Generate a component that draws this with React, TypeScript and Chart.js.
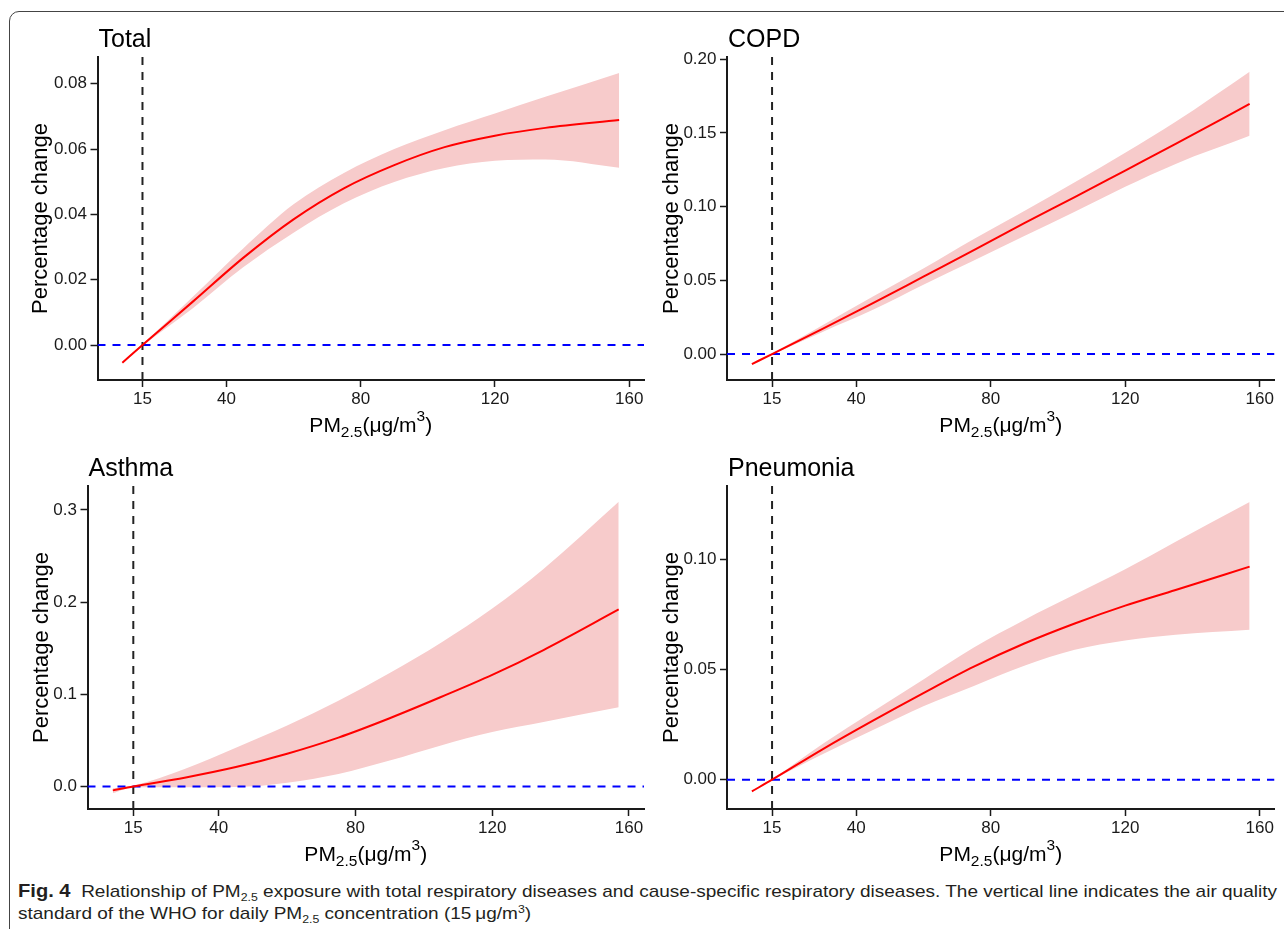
import React, { useEffect, useLayoutEffect, useRef } from "react";
import { Chart, registerables } from "chart.js";

Chart.register(...registerables);

// ---------- data ----------
const PM_X = [9, 15, 30, 45, 60, 75, 90, 105, 120, 135, 157];
const X_TICKS = [15, 40, 80, 120, 160];
const X_RANGE = [1.6, 164.4];
const WHO_LIMIT = 15;

const TOTAL_FIT = [-0.0054, 0, 0.0133, 0.0267, 0.0385, 0.048, 0.0551, 0.0606, 0.0641, 0.0665, 0.0689];
const TOTAL_UPPER = [-0.0052, 0.0003, 0.0148, 0.0296, 0.0431, 0.0527, 0.06, 0.0658, 0.0709, 0.076, 0.0833];
const TOTAL_LOWER = [-0.0056, -0.0003, 0.0113, 0.0238, 0.0344, 0.0434, 0.0499, 0.0542, 0.0564, 0.0568, 0.0543];
const TOTAL_Y_TICKS = [0, 0.02, 0.04, 0.06, 0.08];
const TOTAL_Y_RANGE = [-0.0107, 0.0882];

const COPD_FIT = [-0.0068, 0, 0.0171, 0.0345, 0.0525, 0.0705, 0.0888, 0.1065, 0.1245, 0.1425, 0.1697];
const COPD_UPPER = [-0.0066, 0.0004, 0.0195, 0.039, 0.058, 0.078, 0.097, 0.1165, 0.1365, 0.1575, 0.1915];
const COPD_LOWER = [-0.007, -0.0004, 0.015, 0.03, 0.047, 0.0635, 0.08, 0.0965, 0.1135, 0.129, 0.148];
const COPD_Y_TICKS = [0, 0.05, 0.1, 0.15, 0.2];
const COPD_Y_RANGE = [-0.0176, 0.2015];

const ASTHMA_FIT = [-0.0043, 0, 0.0095, 0.021, 0.0355, 0.053, 0.074, 0.097, 0.121, 0.148, 0.192];
const ASTHMA_UPPER = [-0.002, 0.001, 0.019, 0.042, 0.066, 0.093, 0.123, 0.156, 0.193, 0.236, 0.309];
const ASTHMA_LOWER = [-0.0075, -0.001, -0.001, -0.0007, 0.004, 0.0135, 0.028, 0.0445, 0.059, 0.07, 0.086];
const ASTHMA_Y_TICKS = [0, 0.1, 0.2, 0.3];
const ASTHMA_Y_RANGE = [-0.0245, 0.326];

const PNEU_FIT = [-0.0053, 0, 0.0138, 0.0268, 0.0393, 0.0513, 0.0618, 0.0709, 0.079, 0.0861, 0.0967];
const PNEU_UPPER = [-0.005, 0.0003, 0.0162, 0.031, 0.0455, 0.06, 0.0725, 0.084, 0.0955, 0.108, 0.126];
const PNEU_LOWER = [-0.0056, -0.0003, 0.0115, 0.0225, 0.0333, 0.0425, 0.0517, 0.059, 0.0632, 0.0658, 0.068];
const PNEU_Y_TICKS = [0, 0.05, 0.1];
const PNEU_Y_RANGE = [-0.0133, 0.1333];

const Y_TITLE = "Percentage change";
const MU = "\u03BC";

// ---------- styles ----------
const SANS = '"Liberation Sans", Arial, Helvetica, sans-serif';
const NARROW = '"Liberation Sans Narrow", "Arial Narrow", "Liberation Sans", sans-serif';
const AXIS_COLOR = "#1a1a1a";

type Spec = {
  title: string;
  fit: number[];
  upper: number[];
  lower: number[];
  yTicks: number[];
  yRange: number[];
  dec: number;
  box: { x: number; y: number; w: number; h: number };
  area: { l: number; t: number; r: number; b: number };
  yTitleGap: number;
};

const PANELS: Spec[] = [
  {
    title: "Total", fit: TOTAL_FIT, upper: TOTAL_UPPER, lower: TOTAL_LOWER,
    yTicks: TOTAL_Y_TICKS, yRange: TOTAL_Y_RANGE, dec: 2,
    box: { x: 0, y: 12, w: 655, h: 440 },
    area: { l: 97.5, t: 57, r: 644, b: 380 }, yTitleGap: 50.8,
  },
  {
    title: "COPD", fit: COPD_FIT, upper: COPD_UPPER, lower: COPD_LOWER,
    yTicks: COPD_Y_TICKS, yRange: COPD_Y_RANGE, dec: 2,
    box: { x: 655, y: 12, w: 629, h: 440 },
    area: { l: 727, t: 57, r: 1274.5, b: 380 }, yTitleGap: 49,
  },
  {
    title: "Asthma", fit: ASTHMA_FIT, upper: ASTHMA_UPPER, lower: ASTHMA_LOWER,
    yTicks: ASTHMA_Y_TICKS, yRange: ASTHMA_Y_RANGE, dec: 1,
    box: { x: 0, y: 452, w: 655, h: 420 },
    area: { l: 87.5, t: 486, r: 644, b: 809 }, yTitleGap: 39.5,
  },
  {
    title: "Pneumonia", fit: PNEU_FIT, upper: PNEU_UPPER, lower: PNEU_LOWER,
    yTicks: PNEU_Y_TICKS, yRange: PNEU_Y_RANGE, dec: 2,
    box: { x: 655, y: 452, w: 629, h: 420 },
    area: { l: 727, t: 486, r: 1274.5, b: 809 }, yTitleGap: 49,
  },
];

function drawPMTitle(ctx: CanvasRenderingContext2D, cx: number, baseline: number) {
  const big = `21px ${SANS}`;
  const small = `15.5px ${SANS}`;
  const parts: [string, string, number][] = [
    ["PM", big, 0],
    ["2.5", small, 5],
    ["(" + MU + "g/m", big, 0],
    ["3", small, -11.5],
    [")", big, 0],
  ];
  let w = 0;
  for (const [t, f] of parts) {
    ctx.font = f;
    w += ctx.measureText(t).width;
  }
  let x = cx - w / 2;
  ctx.textAlign = "left";
  ctx.textBaseline = "alphabetic";
  for (const [t, f, dy] of parts) {
    ctx.font = f;
    ctx.fillText(t, x, baseline + dy);
    x += ctx.measureText(t).width;
  }
}

function Panel({ spec }: { spec: Spec }) {
  const ref = useRef<HTMLCanvasElement>(null);
  useEffect(() => {
    const s = spec;
    const yAxisW = 50;
    const xAxisH = 30;
    const pad = {
      top: s.area.t - s.box.y,
      right: s.box.x + s.box.w - s.area.r,
      left: s.area.l - s.box.x - yAxisW,
      bottom: s.box.y + s.box.h - s.area.b - xAxisH,
    };
    const pts = (ys: number[]) => PM_X.map((x, i) => ({ x, y: ys[i] }));
    const textPlugin = {
      id: "panelText",
      afterDraw(chart: any) {
        const ctx: CanvasRenderingContext2D = chart.ctx;
        const a = chart.chartArea;
        ctx.save();
        ctx.fillStyle = "#000";
        ctx.font = `25px ${SANS}`;
        ctx.textAlign = "left";
        ctx.textBaseline = "alphabetic";
        ctx.fillText(s.title, a.left + 1, a.top - 10.5);
        drawPMTitle(ctx, (a.left + a.right) / 2, a.bottom + 52);
        ctx.translate(a.left - s.yTitleGap, (a.top + a.bottom) / 2);
        ctx.rotate(-Math.PI / 2);
        ctx.font = `22px ${SANS}`;
        ctx.textAlign = "center";
        ctx.textBaseline = "alphabetic";
        ctx.fillText(Y_TITLE, 0, 0);
        ctx.restore();
      },
    };
    const axisCommon = {
      grid: {
        display: true,
        drawOnChartArea: false,
        drawTicks: true,
        tickLength: 7,
        tickWidth: 1.5,
        tickColor: AXIS_COLOR,
        color: AXIS_COLOR,
      },
      border: { display: true, color: AXIS_COLOR, width: 2 },
    };
    const chart = new Chart(ref.current as HTMLCanvasElement, {
      type: "line",
      data: {
        datasets: [
          {
            label: "fit",
            data: pts(s.fit),
            borderColor: "#ff0000",
            borderWidth: 2,
            pointRadius: 0,
            cubicInterpolationMode: "monotone",
            fill: false,
          },
          {
            label: "who",
            data: [
              { x: WHO_LIMIT, y: s.yRange[0] },
              { x: WHO_LIMIT, y: s.yRange[1] },
            ],
            borderColor: "#222222",
            borderWidth: 2,
            borderDash: [8, 7],
            pointRadius: 0,
            fill: false,
          },
          {
            label: "zero",
            data: [
              { x: X_RANGE[0], y: 0 },
              { x: X_RANGE[1], y: 0 },
            ],
            borderColor: "#0000ff",
            borderWidth: 2,
            borderDash: [8, 7],
            pointRadius: 0,
            fill: false,
          },
          {
            label: "upper",
            data: pts(s.upper),
            borderColor: "rgba(0,0,0,0)",
            borderWidth: 0,
            pointRadius: 0,
            cubicInterpolationMode: "monotone",
            backgroundColor: "rgb(247,203,203)",
            fill: "+1",
          },
          {
            label: "lower",
            data: pts(s.lower),
            borderColor: "rgba(0,0,0,0)",
            borderWidth: 0,
            pointRadius: 0,
            cubicInterpolationMode: "monotone",
            fill: false,
          },
        ],
      } as any,
      options: {
        responsive: false,
        animation: false,
        events: [],
        layout: { padding: pad },
        plugins: {
          legend: { display: false },
          tooltip: { enabled: false },
          title: { display: false },
        },
        scales: {
          x: {
            type: "linear",
            min: X_RANGE[0],
            max: X_RANGE[1],
            afterBuildTicks: (sc: any) => {
              sc.ticks = X_TICKS.map((v) => ({ value: v }));
            },
            afterFit: (sc: any) => {
              sc.height = xAxisH;
            },
            ...axisCommon,
            ticks: {
              font: { family: NARROW, size: 17 },
              color: AXIS_COLOR,
              padding: 2,
              maxRotation: 0,
              autoSkip: false,
              callback: (v: any) => String(v),
            },
          },
          y: {
            type: "linear",
            min: s.yRange[0],
            max: s.yRange[1],
            afterBuildTicks: (sc: any) => {
              sc.ticks = s.yTicks.map((v) => ({ value: v }));
            },
            afterFit: (sc: any) => {
              sc.width = yAxisW;
            },
            ...axisCommon,
            ticks: {
              font: { family: NARROW, size: 17 },
              color: AXIS_COLOR,
              padding: 3.5,
              autoSkip: false,
              callback: (v: any) => Number(v).toFixed(s.dec),
            },
          },
        },
      } as any,
      plugins: [textPlugin],
    });
    return () => chart.destroy();
  }, [spec]);
  return (
    <canvas
      ref={ref}
      width={spec.box.w}
      height={spec.box.h}
      style={{
        position: "absolute",
        left: spec.box.x,
        top: spec.box.y,
        width: spec.box.w,
        height: spec.box.h,
      }}
    />
  );
}

function Caption() {
  const l1 = useRef<HTMLDivElement>(null);
  const l2 = useRef<HTMLDivElement>(null);
  useLayoutEffect(() => {
    if (!l1.current || !l2.current) return;
    const w = l1.current.scrollWidth;
    const k = 1259 / w;
    l1.current.style.transform = `scaleX(${k})`;
    l2.current.style.transform = `scaleX(${k})`;
  }, []);
  const lineStyle: React.CSSProperties = {
    position: "absolute",
    left: 18,
    whiteSpace: "nowrap",
    fontFamily: NARROW,
    fontSize: 17,
    lineHeight: "20px",
    color: "#231f20",
    transformOrigin: "0 0",
  };
  const sub: React.CSSProperties = { fontSize: 11, verticalAlign: "-4px", lineHeight: 0 };
  const sup: React.CSSProperties = { fontSize: 11, verticalAlign: "6px", lineHeight: 0 };
  return (
    <>
      <div ref={l1} style={{ ...lineStyle, top: 880.5 }}>
        <b style={{ fontSize: 18 }}>Fig. 4</b>&nbsp; Relationship of PM<span style={sub}>2.5</span> exposure with total respiratory
        diseases and cause-specific respiratory diseases. The vertical line indicates the air quality
      </div>
      <div ref={l2} style={{ ...lineStyle, top: 904 }}>
        {"standard of the WHO for daily PM"}
        <span style={sub}>2.5</span>
        {" concentration (15\u2009" + MU + "g/m"}
        <span style={sup}>3</span>
        {")"}
      </div>
    </>
  );
}

export default function App() {
  return (
    <div
      style={{
        position: "absolute",
        left: 0,
        top: 0,
        width: 1284,
        height: 929,
        overflow: "hidden",
        background: "#fff",
      }}
    >
      <div
        style={{
          position: "absolute",
          left: 9,
          top: 11,
          width: 1320,
          height: 980,
          border: "1.3px solid #444",
          borderTopLeftRadius: 10,
          boxSizing: "border-box",
        }}
      />
      {PANELS.map((p) => (
        <Panel key={p.title} spec={p} />
      ))}
      <Caption />
    </div>
  );
}
